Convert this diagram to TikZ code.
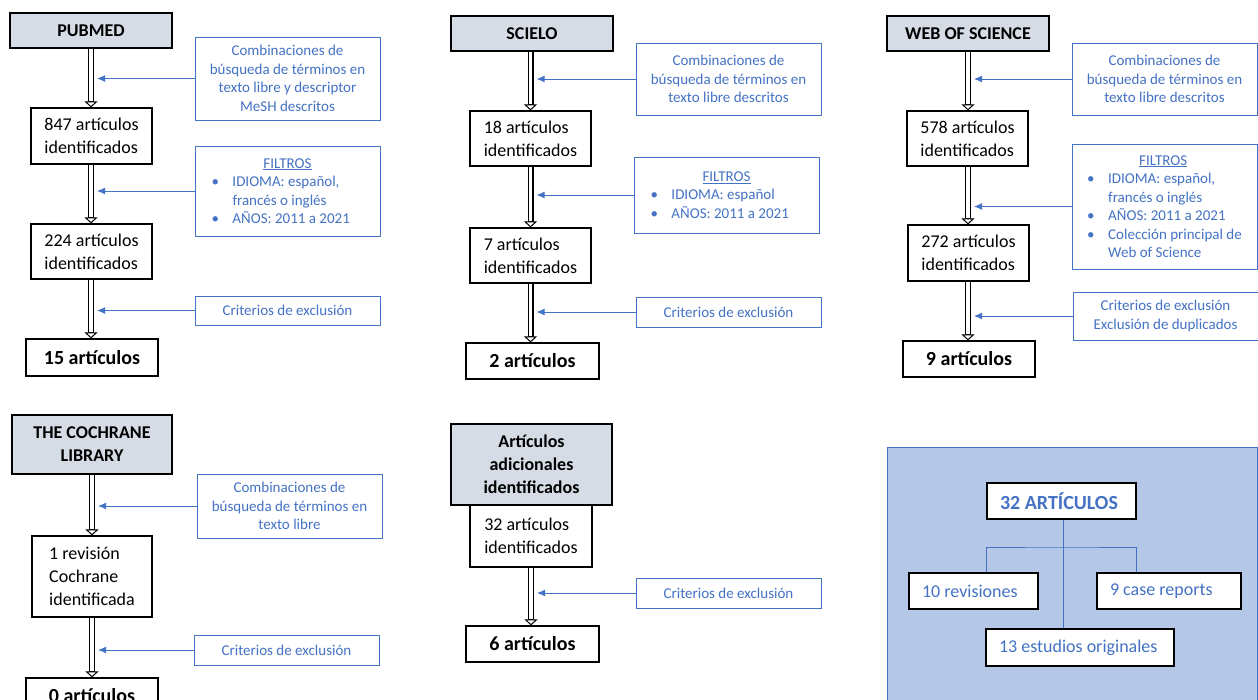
\documentclass[tikz,border=0pt]{standalone}
\usepackage{fontspec}
\setmainfont{Carlito}
\usetikzlibrary{positioning,arrows.meta,calc}
\definecolor{cblue}{RGB}{68,114,196}
\definecolor{chdr}{RGB}{214,220,229}
\definecolor{cregion}{RGB}{180,199,231}
\newcommand{\blt}{\makebox[21pt][l]{\textbullet}}
\newcommand{\ind}{\hspace*{21pt}}
\newcommand{\filthead}{\makebox[152pt][c]{\underline{FILTROS}}}
\newcommand{\lft}[2]{\makebox[#1pt][l]{#2}}

\begin{document}
\begin{tikzpicture}[x=1pt,y=-1pt,
  wh/.style 2 args={minimum width=#1pt,minimum height=#2pt},
  hdr/.style={draw=black,line width=1.2pt,fill=chdr,inner sep=0pt,align=center,
    font=\fontsize{18}{23}\selectfont\bfseries},
  cnt/.style={draw=black,line width=1.2pt,fill=white,inner sep=0pt,align=left,
    font=\fontsize{18}{23}\selectfont},
  fin/.style={cnt,align=center,font=\fontsize{20}{24}\selectfont\bfseries},
  note/.style={draw=cblue,line width=1pt,fill=white,text=cblue,inner sep=0pt,align=center,
    font=\fontsize{15}{18.5}\selectfont},
  filt/.style={note,align=left},
  sumbox/.style={draw=black,line width=1.2pt,fill=white,text=cblue,inner ysep=0pt,
    inner xsep=13pt,font=\fontsize{18}{22}\selectfont},
  flow/.style={draw=black,line width=6pt,
    -{Triangle[length=6pt,width=13pt,fill=white,line width=1pt]},
    postaction={draw=white,line width=3.6pt,-,shorten >=6pt}},
  feed/.style={draw=cblue,line width=1pt,-{Latex[length=8pt,width=7pt]}},
  tie/.style={draw=cblue,line width=1pt},
]
\useasboundingbox (0,0) rectangle (1258,699);
\clip (0,0) rectangle (1258,699);

% ===== PUBMED =====
\node[hdr,wh={162}{35}] (pmH) at (91,30.5) {PUBMED};
\node[cnt,wh={121}{56}] (pm1) at (91.5,136) {847 artículos\\identificados};
\node[cnt,wh={121}{55}] (pm2) at (91.5,251.5) {224 artículos\\identificados};
\node[fin,wh={132}{37}] (pm3) at (92,357.5) {15 artículos};
\node[note,wh={185}{83}] (pmC) at (287.5,78.5)
  {Combinaciones de\\búsqueda de términos en\\texto libre y descriptor\\MeSH descritos};
\node[filt,wh={185}{90}] (pmF) at (287.5,191)
  {\filthead\\\blt IDIOMA: español,\\\ind francés o inglés\\\blt AÑOS: 2011 a 2021};
\node[note,wh={185}{29}] (pmX) at (287.5,310.5) {Criterios de exclusión};
\draw[flow] (pmH.south) -- (pmH.south |- pm1.north);
\draw[flow] (pmH.south |- pm1.south) -- (pmH.south |- pm2.north);
\draw[flow] (pmH.south |- pm2.south) -- (pmH.south |- pm3.north);
\foreach \n in {pmC,pmF,pmX}
  \draw[feed] (\n.west) -- ($(\n.west -| pmH.south)+(6,0)$);

% ===== SCIELO =====
\node[hdr,wh={162}{35}] (scH) at (532,33.5) {SCIELO};
\node[cnt,wh={121}{55}] (sc1) at (530.5,138.5) {18 artículos\\identificados};
\node[cnt,wh={121}{55}] (sc2) at (530.5,255.5) {7 artículos\\identificados};
\node[fin,wh={133}{36}] (sc3) at (532.5,361) {2 artículos};
\node[note,wh={185}{72}] (scC) at (728.5,79)
  {Combinaciones de\\búsqueda de términos en\\texto libre descritos};
\node[filt,wh={185}{76}] (scF) at (726.5,195)
  {\filthead\\\blt IDIOMA: español\\\blt AÑOS: 2011 a 2021};
\node[note,wh={185}{30}] (scX) at (728.5,312) {Criterios de exclusión};
\draw[flow] (sc1.north |- scH.south) -- (sc1.north);
\draw[flow] (sc1.south) -- (sc2.north);
\draw[flow] (sc2.south) -- (sc2.south |- sc3.north);
\foreach \n in {scC,scF,scX}
  \draw[feed] (\n.west) -- ($(\n.west -| sc1.south)+(6,0)$);

% ===== WEB OF SCIENCE =====
\node[hdr,wh={162}{35}] (wsH) at (968,33.5) {WEB OF SCIENCE};
\node[cnt,wh={121}{55}] (ws1) at (967.5,138.5) {578 artículos\\identificados};
\node[cnt,wh={121}{56}] (ws2) at (968.5,253) {272 artículos\\identificados};
\node[fin,wh={132}{36}] (ws3) at (969,359) {9 artículos};
\node[note,wh={185}{72}] (wsC) at (1164.5,79)
  {Combinaciones de\\búsqueda de términos en\\texto libre descritos};
\node[filt,wh={185}{125}] (wsF) at (1164.5,206.5)
  {\filthead\\\blt IDIOMA: español,\\\ind francés o inglés\\\blt AÑOS: 2011 a 2021\\\blt Colección principal de\\\ind Web of Science};
\node[note,wh={185}{48}] (wsX) at (1165.5,316) {Criterios de exclusión\\Exclusión de duplicados};
\draw[flow] (wsH.south) -- (wsH.south |- ws1.north);
\draw[flow] (wsH.south |- ws1.south) -- (wsH.south |- ws2.north);
\draw[flow] (wsH.south |- ws2.south) -- (wsH.south |- ws3.north);
\foreach \n in {wsC,wsF,wsX}
  \draw[feed] (\n.west) -- ($(\n.west -| wsH.south)+(6,0)$);

% ===== THE COCHRANE LIBRARY =====
\node[hdr,wh={160}{59}] (coH) at (92,444.5) {THE COCHRANE\\LIBRARY};
\node[cnt,wh={120}{81}] (co1) at (92,576.5) {1 revisión\\Cochrane\\identificada};
\node[fin,wh={132}{36}] (co2) at (92,696) {0 artículos};
\node[note,wh={185}{64}] (coC) at (289.5,506)
  {Combinaciones de\\búsqueda de términos en\\texto libre};
\node[note,wh={185}{30}] (coX) at (286.5,650) {Criterios de exclusión};
\draw[flow] (coH.south) -- (co1.north);
\draw[flow] (co1.south) -- (co2.north);
\foreach \n in {coC,coX}
  \draw[feed] (\n.west) -- ($(\n.west -| coH.south)+(6,0)$);

% ===== ARTICULOS ADICIONALES =====
\node[cnt,wh={122}{62}] (ad1) at (531,536) {32 artículos\\identificados};
\node[hdr,wh={161}{81}] (adH) at (531.5,464.5)
  {Artículos\\adicionales\\identificados};
\node[fin,wh={133}{36}] (ad2) at (532.5,644) {6 artículos};
\node[note,wh={185}{30}] (adX) at (728.5,593) {Criterios de exclusión};
\draw[flow] (ad1.south) -- (ad1.south |- ad2.north);
\draw[feed] (adX.west) -- ($(adX.west -| ad1.south)+(6,0)$);

% ===== summary panel =====
\draw[tie,fill=cregion] (887,447) rectangle (1257,712);
\node[sumbox,minimum height=36pt,font=\fontsize{20}{24}\selectfont\bfseries]
  (sm0) at (1061.5,501) {\lft{123}{32 ARTÍCULOS}};
\node[sumbox,minimum height=36pt] (sm1) at (973.5,591) {\lft{103}{10 revisiones}};
\node[sumbox,minimum height=36pt] (sm2) at (1169,591) {\lft{118}{9 case reports}};
\node[sumbox,minimum height=37pt] (sm3) at (1080,647.5) {\lft{162}{13 estudios originales}};
\coordinate (br) at (1063,547);
\draw[tie] (br |- sm0.south) -- (br |- sm3.north);
\draw[tie] (sm1.north -| sm0.west) |- (br) -| (sm2.north -| sm0.east);
\end{tikzpicture}
\end{document}
